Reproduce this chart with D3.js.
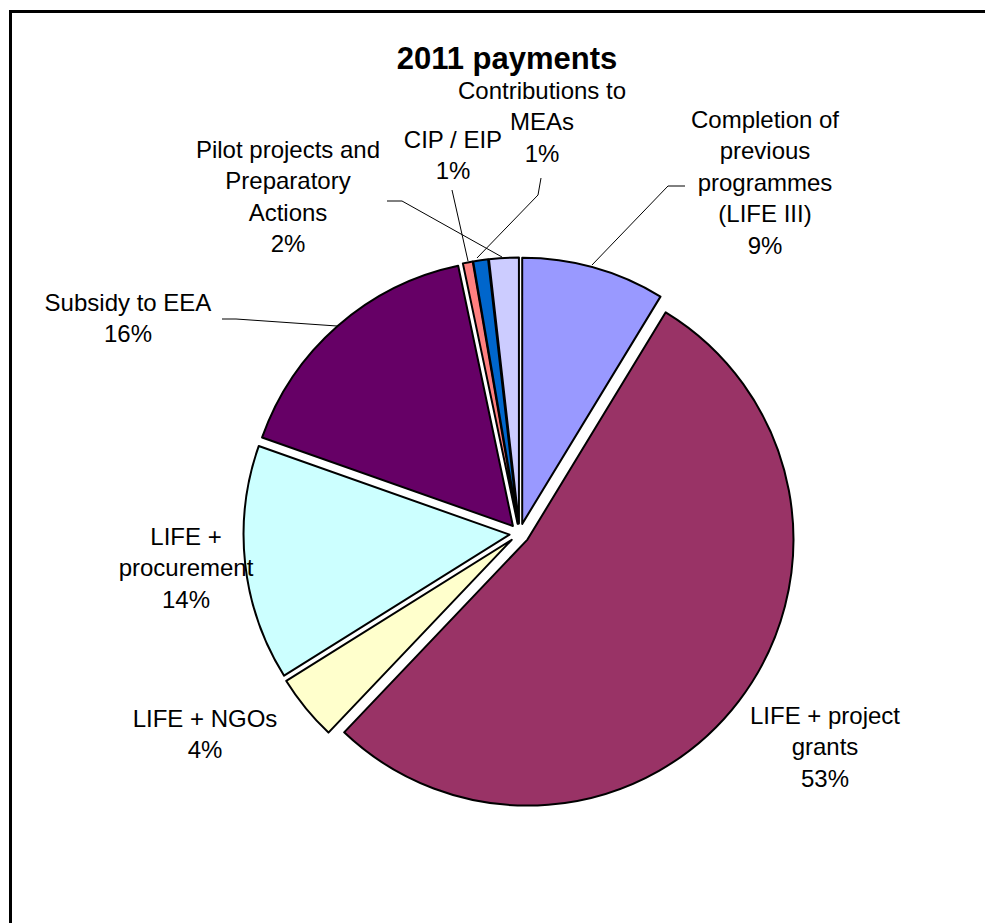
<!DOCTYPE html>
<html>
<head>
<meta charset="utf-8">
<script src="https://cdn.jsdelivr.net/npm/d3@7"></script>
<style>
  html, body { margin: 0; padding: 0; background: #fff; }
  svg { display: block; font-family: Arial, "Liberation Sans", sans-serif; }
</style>
</head>
<body>
<svg id="chart" width="985" height="923"></svg>
<script>
(function() {
  'use strict';

  // data (share of 2011 payments, %)
  const categories = [
    'Completion of previous programmes (LIFE III)',
    'LIFE + project grants',
    'LIFE + NGOs',
    'LIFE + procurement',
    'Subsidy to EEA',
    'CIP / EIP',
    'Contributions to MEAs',
    'Pilot projects and Preparatory Actions'
  ];
  const values = [8.7, 53.4, 4.0, 14.3, 16.3, 0.6, 0.9, 1.8];
  const colors = ['#9999FF', '#993366', '#FFFFCC', '#CCFFFF', '#660066', '#FF8080', '#0066CC', '#CCCCFF'];
  // how each label breaks into lines
  const labelLines = [
    ['Completion of', 'previous', 'programmes', '(LIFE III)'],
    ['LIFE + project', 'grants'],
    ['LIFE + NGOs'],
    ['LIFE +', 'procurement'],
    ['Subsidy to EEA'],
    ['CIP / EIP'],
    ['Contributions to', 'MEAs'],
    ['Pilot projects and', 'Preparatory', 'Actions']
  ];
  const title = '2011 payments';

  const svg = d3.select('#chart');
  const cx = 519.5, cy = 533.5, radius = 266, explode = 10;
  const lineH = 31.4;

  // frame (right/bottom edges fall outside the picture)
  svg.append('rect')
    .attr('x', 10.5).attr('y', 11.5)
    .attr('width', 1200).attr('height', 1200)
    .attr('fill', '#fff')
    .attr('stroke', '#000')
    .attr('stroke-width', 3);

  svg.append('text')
    .attr('x', 507).attr('y', 69)
    .attr('text-anchor', 'middle')
    .attr('font-size', 31)
    .attr('font-weight', 'bold')
    .text(title);

  const total = d3.sum(values);
  const pie = d3.pie().sort(null).value(d => d)(values);
  const arc = d3.arc().innerRadius(0).outerRadius(radius);

  const g = svg.append('g').attr('transform', `translate(${cx},${cy})`);
  g.selectAll('path.slice')
    .data(pie)
    .enter()
    .append('path')
    .attr('class', 'slice')
    .attr('d', arc)
    .attr('transform', d => {
      const a = (d.startAngle + d.endAngle) / 2;
      return `translate(${explode * Math.sin(a)},${-explode * Math.cos(a)})`;
    })
    .attr('fill', (d, i) => colors[i])
    .attr('stroke', '#000')
    .attr('stroke-width', 2)
    .attr('stroke-linejoin', 'round');

  // label placement: centre x and first baseline
  const labelPos = [
    [765, 128],
    [825, 724],
    [205, 727],
    [186, 545],
    [128, 311],
    [453, 148],
    [542, 99],
    [288, 158]
  ];
  // leader lines (label end -> slice edge)
  const leaders = {
    0: [[685, 186], [668, 186], [592, 265]],
    4: [[222, 319], [236, 319], [337, 326]],
    5: [[452, 190], [468, 261]],
    6: [[541, 178], [538, 195], [477, 258]],
    7: [[387, 201], [402, 201], [502, 257]]
  };

  const line = d3.line();
  Object.keys(leaders).forEach(k => {
    svg.append('path')
      .attr('d', line(leaders[k]))
      .attr('fill', 'none')
      .attr('stroke', '#000')
      .attr('stroke-width', 1);
  });

  const fmt = v => Math.round(v / total * 100) + '%';
  labelLines.forEach((lines, i) => {
    const t = svg.append('text')
      .attr('text-anchor', 'middle')
      .attr('font-size', 24)
      .attr('fill', '#000');
    lines.concat([fmt(values[i])]).forEach((s, j) => {
      t.append('tspan')
        .attr('x', labelPos[i][0])
        .attr('y', labelPos[i][1] + j * lineH)
        .text(s);
    });
  });
})();
</script>
</body>
</html>
